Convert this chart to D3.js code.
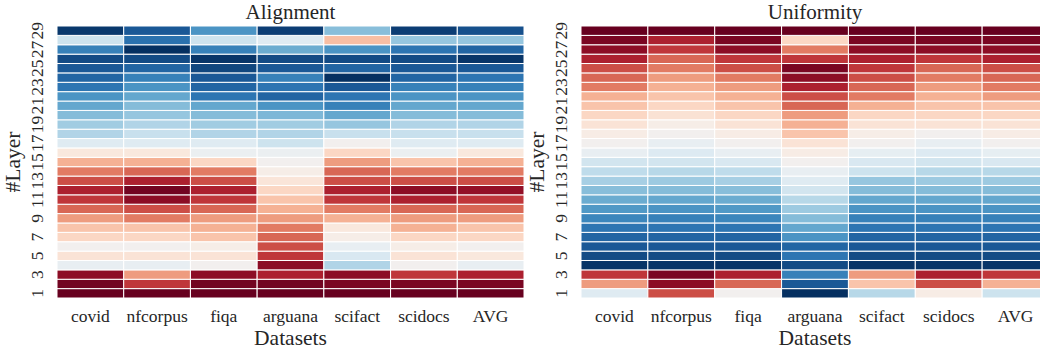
<!DOCTYPE html>
<html>
<head>
<meta charset="utf-8">
<script src="https://cdn.jsdelivr.net/npm/d3@7"></script>
<style>
  body { margin: 0; background: #fff; }
  text { font-family: "Liberation Serif", "DejaVu Serif", serif; fill: #262626; }
</style>
</head>
<body>
<div id="container"></div>
<script>
// categories
const datasets = ['covid', 'nfcorpus', 'fiqa', 'arguana', 'scifact', 'scidocs', 'AVG'];
const layers = [1, 2, 3, 4, 5, 6, 7, 8, 9, 10, 11, 12, 13, 14, 15,
                16, 17, 18, 19, 20, 21, 22, 23, 24, 25, 26, 27, 28, 29];
const layerTicks = [1, 3, 5, 7, 9, 11, 13, 15, 17, 19, 21, 23, 25, 27, 29];

// Alignment, one array per dataset, layer 1 -> 29 (normalised, -1 blue .. 1 red)
const alignCovid    = [1.0, 0.97, 0.9, -0.07, 0.13, 0.0, 0.2, 0.28, 0.42, 0.58, 0.72, 0.8, 0.65, 0.52,
                       0.35, 0.1, -0.12, -0.3, -0.35, -0.43, -0.52, -0.6, -0.73, -0.8, -0.85, -0.9, -0.68, -0.2, -0.97];
const alignNfcorpus = [1.0, 0.72, 0.42, -0.07, 0.13, 0.0, 0.2, 0.28, 0.52, 0.65, 0.9, 0.97, 0.8, 0.58,
                       0.35, 0.1, -0.12, -0.22, -0.3, -0.38, -0.43, -0.52, -0.6, -0.68, -0.8, -0.9, -1.0, -0.75, -0.85];
const alignFiqa     = [1.0, 0.97, 0.9, 0.0, 0.13, 0.05, 0.28, 0.35, 0.42, 0.58, 0.72, 0.8, 0.65, 0.52,
                       0.2, -0.05, -0.12, -0.3, -0.35, -0.43, -0.52, -0.73, -0.8, -0.85, -0.92, -0.98, -0.68, -0.2, -0.6];
const alignArguana  = [1.0, 0.97, 0.8, 0.9, 0.72, 0.65, 0.58, 0.52, 0.42, 0.35, 0.28, 0.2, 0.12, 0.05,
                       0.0, -0.05, -0.2, -0.3, -0.35, -0.45, -0.6, -0.8, -0.73, -0.68, -0.85, -0.9, -0.5, -0.12, -0.95];
const alignScifact  = [1.0, 0.95, 0.9, -0.3, -0.15, -0.07, 0.05, 0.1, 0.35, 0.52, 0.72, 0.8, 0.65, 0.58,
                       0.42, 0.2, 0.0, -0.22, -0.38, -0.52, -0.68, -0.73, -0.85, -1.0, -0.8, -0.9, -0.6, 0.3, -0.42];
const alignScidocs  = [1.0, 0.95, 0.72, 0.0, 0.13, 0.05, 0.2, 0.35, 0.42, 0.58, 0.8, 0.9, 0.65, 0.52,
                       0.28, -0.05, -0.12, -0.22, -0.3, -0.43, -0.52, -0.6, -0.68, -0.8, -0.85, -0.9, -0.73, -0.38, -0.95];
const alignAvg      = [1.0, 0.95, 0.8, -0.07, 0.1, 0.0, 0.2, 0.28, 0.42, 0.58, 0.72, 0.88, 0.65, 0.52,
                       0.35, 0.1, -0.12, -0.22, -0.3, -0.43, -0.52, -0.6, -0.68, -0.73, -0.85, -0.98, -0.8, -0.38, -0.88];

// Uniformity, same layout
const uniCovid    = [-0.12, 0.42, 0.72, -0.98, -0.9, -0.85, -0.8, -0.73, -0.66, -0.58, -0.5, -0.42, -0.33, -0.25,
                     -0.18, -0.07, 0.0, 0.06, 0.13, 0.2, 0.28, 0.35, 0.52, 0.58, 0.65, 0.8, 0.9, 0.95, 1.0];
const uniNfcorpus = [0.65, 0.9, 0.95, -0.98, -0.9, -0.85, -0.8, -0.73, -0.68, -0.6, -0.52, -0.43, -0.36, -0.28,
                     -0.18, -0.13, -0.07, 0.0, 0.05, 0.14, 0.2, 0.28, 0.35, 0.42, 0.52, 0.58, 0.72, 0.8, 1.0];
const uniFiqa     = [0.0, 0.58, 0.8, -0.98, -0.9, -0.85, -0.8, -0.73, -0.66, -0.58, -0.5, -0.42, -0.33, -0.25,
                     -0.15, -0.07, 0.0, 0.06, 0.13, 0.2, 0.28, 0.35, 0.42, 0.52, 0.65, 0.72, 0.9, 0.95, 1.0];
const uniArguana  = [-1.0, -0.85, -0.68, -0.9, -0.73, -0.8, -0.6, -0.52, -0.43, -0.36, -0.28, -0.18, -0.12, -0.07,
                     0.0, 0.06, 0.13, 0.28, 0.35, 0.42, 0.58, 0.65, 0.8, 0.9, 0.95, 0.72, 0.52, 0.2, 1.0];
const uniScifact  = [-0.28, 0.28, 0.42, -0.98, -0.9, -0.85, -0.8, -0.73, -0.68, -0.6, -0.52, -0.43, -0.38, -0.2,
                     -0.15, -0.08, 0.0, 0.05, 0.13, 0.2, 0.35, 0.52, 0.58, 0.65, 0.72, 0.8, 0.9, 0.95, 1.0];
const uniScidocs  = [0.06, 0.65, 0.8, -0.98, -0.9, -0.85, -0.8, -0.73, -0.68, -0.6, -0.52, -0.43, -0.36, -0.28,
                     -0.18, -0.13, -0.07, 0.0, 0.13, 0.2, 0.28, 0.35, 0.42, 0.52, 0.58, 0.72, 0.9, 0.95, 1.0];
const uniAvg      = [-0.2, 0.35, 0.72, -0.98, -0.9, -0.85, -0.8, -0.73, -0.68, -0.6, -0.52, -0.43, -0.36, -0.28,
                     -0.15, -0.08, 0.0, 0.06, 0.13, 0.2, 0.28, 0.42, 0.52, 0.58, 0.65, 0.8, 0.9, 0.95, 1.0];

const alignment = [alignCovid, alignNfcorpus, alignFiqa, alignArguana, alignScifact, alignScidocs, alignAvg];
const uniformity = [uniCovid, uniNfcorpus, uniFiqa, uniArguana, uniScifact, uniScidocs, uniAvg];

const width = 1040;
const height = 350;
const plotTop = 26, plotBottom = 298;

const svg = d3.select('#container')
  .append('svg')
    .attr('width', width)
    .attr('height', height);

// RdBu reversed: -1 -> dark blue, 1 -> dark red
const color = v => d3.interpolateRdBu((1 - v) / 2);

function heatmap(cols, x0, x1, title) {
  const x = d3.scaleBand().domain(datasets).range([x0, x1]);
  const y = d3.scaleBand().domain(layers).range([plotBottom, plotTop]);

  const cells = [];
  cols.forEach((arr, i) => {
    arr.forEach((v, j) => cells.push({ ds: datasets[i], layer: layers[j], v: v }));
  });

  const g = svg.append('g');

  g.selectAll('rect')
    .data(cells)
    .enter()
    .append('rect')
      .attr('x', d => x(d.ds))
      .attr('y', d => y(d.layer))
      .attr('width', x.bandwidth())
      .attr('height', y.bandwidth())
      .style('fill', d => color(d.v))
      .style('stroke', '#fff')
      .style('stroke-width', 1);

  const xAxis = g.append('g')
    .attr('transform', `translate(0, ${plotBottom})`)
    .call(d3.axisBottom(x).tickSize(0).tickPadding(12));
  xAxis.select('.domain').remove();
  xAxis.selectAll('text')
    .style('font-size', '17.5px')
    .style('font-family', '"Liberation Serif", serif')
    .style('fill', '#262626');

  const yAxis = g.append('g')
    .attr('transform', `translate(${x0}, 0)`)
    .call(d3.axisLeft(y).tickValues(layerTicks).tickSize(0));
  yAxis.select('.domain').remove();
  yAxis.selectAll('text')
    .attr('transform', 'rotate(-90)')
    .attr('x', 0)
    .attr('y', -14)
    .attr('dy', 0)
    .attr('text-anchor', 'middle')
    .style('font-size', '17.5px')
    .style('font-family', '"Liberation Serif", serif')
    .style('fill', '#262626');

  const cx = (x0 + x1) / 2;

  svg.append('text')
    .attr('x', cx)
    .attr('y', 19)
    .attr('text-anchor', 'middle')
    .style('font-size', '21px')
    .text(title);

  svg.append('text')
    .attr('x', cx)
    .attr('y', 345)
    .attr('text-anchor', 'middle')
    .style('font-size', '21.5px')
    .text('Datasets');

  svg.append('text')
    .attr('transform', `translate(${x0 - 37}, ${(plotTop + plotBottom) / 2}) rotate(-90)`)
    .attr('text-anchor', 'middle')
    .style('font-size', '21.5px')
    .text('#Layer');
}

heatmap(alignment, 57, 524, 'Alignment');
heatmap(uniformity, 581, 1049, 'Uniformity');
</script>
</body>
</html>
